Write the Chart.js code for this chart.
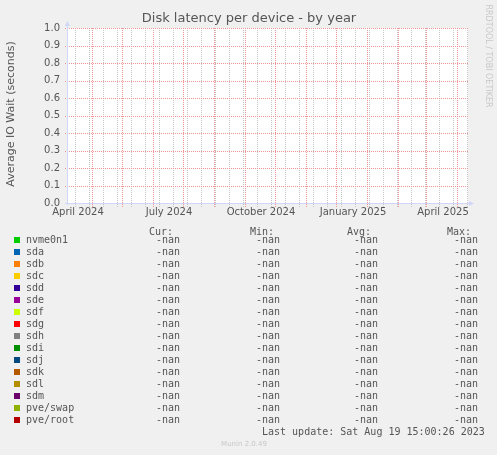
<!DOCTYPE html>
<html lang="en">
<head>
  <meta charset="UTF-8">
  <title>Disk latency per device - by year</title>
  <script src="https://cdn.jsdelivr.net/npm/chart.js"></script>
  <style>
    body { margin: 0; background: #f0f0f0; }
    #box { width: 497px; height: 455px; }
  </style>
</head>
<body>
<div id="box"><canvas id="myChart" width="497" height="455"></canvas></div>

<script>
// series (all empty on this graph, munin shows -nan)
const devices = ['nvme0n1', 'sda', 'sdb', 'sdc', 'sdd', 'sde', 'sdf', 'sdg',
                 'sdh', 'sdi', 'sdj', 'sdk', 'sdl', 'sdm', 'pve/swap', 'pve/root'];
const colors = ['#00cc00', '#0066b3', '#ff8000', '#ffcc00', '#330099', '#990099', '#ccff00', '#ff0000',
                '#808080', '#008f00', '#00487d', '#b35a00', '#b38f00', '#6b006b', '#8fb300', '#b30000'];
const curVals = [NaN, NaN, NaN, NaN, NaN, NaN, NaN, NaN, NaN, NaN, NaN, NaN, NaN, NaN, NaN, NaN];
const minVals = [NaN, NaN, NaN, NaN, NaN, NaN, NaN, NaN, NaN, NaN, NaN, NaN, NaN, NaN, NaN, NaN];
const avgVals = [NaN, NaN, NaN, NaN, NaN, NaN, NaN, NaN, NaN, NaN, NaN, NaN, NaN, NaN, NaN, NaN];
const maxVals = [NaN, NaN, NaN, NaN, NaN, NaN, NaN, NaN, NaN, NaN, NaN, NaN, NaN, NaN, NaN, NaN];

// x axis: days counted from 1 April 2024
const monthStarts = [0, 30, 61, 91, 122, 153, 183, 214, 244, 275, 306, 334, 365];
const labelDays = [0, 91, 183, 275, 365];
const labelTexts = ['April 2024', 'July 2024', 'October 2024', 'January 2025', 'April 2025'];
const yTicks = [0, 0.1, 0.2, 0.3, 0.4, 0.5, 0.6, 0.7, 0.8, 0.9, 1.0];

const title = 'Disk latency per device - by year';
const yTitle = 'Average IO Wait (seconds)';
const headers = ['Cur:', 'Min:', 'Avg:', 'Max:'];
const lastUpdate = 'Last update: Sat Aug 19 15:00:26 2023';
const version = 'Munin 2.0.49';

const fontColor = '#555';
const axisColor = '#cfd6f8';
const majorColor = 'rgb(236,150,150)';
const minorColor = 'rgb(198,198,198)';

Chart.defaults.font.family = 'DejaVu Sans';

function fmt(v) {
  return isNaN(v) ? '-nan' : v.toFixed(2);
}

function kindColor(k) {
  if (k === 'major') return majorColor;
  if (k === 'minor') return minorColor;
  return null;
}

// rrdtool look: white canvas, dotted grid, axes with arrows, texts, legend table
const munin = {
  id: 'munin',
  beforeDraw(chart) {
    const a = chart.chartArea, ctx = chart.ctx;
    ctx.save();
    ctx.fillStyle = '#fff';
    ctx.fillRect(a.left, a.top, a.right - a.left, a.bottom - a.top);
    ctx.restore();
  },
  beforeDatasetsDraw(chart) {
    const a = chart.chartArea, ctx = chart.ctx;
    const xs = chart.scales.x, ys = chart.scales.y;
    const top = Math.round(a.top), bottom = Math.round(a.bottom);
    const left = Math.round(a.left), right = Math.round(a.right);
    ctx.save();
    // vertical lines from the x ticks
    xs.ticks.forEach(t => {
      const col = kindColor(t.kind);
      if (!col) return;
      const px = Math.round(xs.getPixelForValue(t.value));
      ctx.fillStyle = col;
      for (let y = top; y <= bottom + 3; y += 2) ctx.fillRect(px, y, 1, 1);
    });
    // horizontal lines from the y ticks
    ys.ticks.forEach(t => {
      const py = Math.round(ys.getPixelForValue(t.value));
      ctx.fillStyle = majorColor;
      for (let x = left - 2; x <= right; x += 2) ctx.fillRect(x, py, 1, 1);
    });
    ctx.restore();
  },
  afterDraw(chart) {
    const a = chart.chartArea, ctx = chart.ctx;
    const x0 = Math.round(a.left) + 0.5, y0 = Math.round(a.bottom) + 0.5;
    ctx.save();
    ctx.strokeStyle = axisColor;
    ctx.fillStyle = axisColor;
    ctx.lineWidth = 1;
    ctx.beginPath();
    ctx.moveTo(a.left - 2, y0); ctx.lineTo(a.right + 2, y0);
    ctx.moveTo(x0, a.bottom + 2); ctx.lineTo(x0, a.top - 3);
    ctx.stroke();
    ctx.beginPath();
    ctx.moveTo(x0, a.top - 7); ctx.lineTo(x0 - 2.5, a.top - 2); ctx.lineTo(x0 + 2.5, a.top - 2);
    ctx.closePath(); ctx.fill();
    ctx.beginPath();
    ctx.moveTo(a.right + 6, y0); ctx.lineTo(a.right + 1, y0 - 2.5); ctx.lineTo(a.right + 1, y0 + 2.5);
    ctx.closePath(); ctx.fill();

    // title
    ctx.fillStyle = fontColor;
    ctx.textAlign = 'center';
    ctx.textBaseline = 'middle';
    ctx.font = '13px "DejaVu Sans"';
    ctx.fillText(title, 249, 19);

    // y axis title
    ctx.font = '11px "DejaVu Sans"';
    ctx.save();
    ctx.translate(11, 114);
    ctx.rotate(-Math.PI / 2);
    ctx.fillText(yTitle, 0, 0);
    ctx.restore();

    // rrdtool credit
    ctx.save();
    ctx.fillStyle = '#c8c8c8';
    ctx.font = '8px "DejaVu Sans"';
    ctx.translate(488, 56);
    ctx.rotate(Math.PI / 2);
    ctx.fillText('RRDTOOL / TOBI OETIKER', 0, 0);
    ctx.restore();

    // legend table
    ctx.font = '10px "DejaVu Sans Mono"';
    ctx.textAlign = 'left';
    const cols = [156, 256, 354, 454];
    const hdrX = [149, 250, 347, 447];
    headers.forEach((h, i) => ctx.fillText(h, hdrX[i], 232));
    const stats = [curVals, minVals, avgVals, maxVals];
    chart.data.datasets.forEach((ds, i) => {
      const y = 240 + i * 12;
      ctx.fillStyle = ds.borderColor;
      ctx.fillRect(14, y - 3, 6, 6);
      ctx.fillStyle = fontColor;
      ctx.fillText(ds.label, 26, y);
      stats.forEach((s, j) => ctx.fillText(fmt(s[i]), cols[j], y));
    });
    ctx.fillText(lastUpdate, 262, 432);

    ctx.fillStyle = '#c8c8c8';
    ctx.font = '7px "DejaVu Sans"';
    ctx.textAlign = 'center';
    ctx.fillText(version, 244, 444);
    ctx.restore();
  }
};

const datasets = devices.map((d, i) => ({
  label: d,
  data: [],
  borderColor: colors[i],
  backgroundColor: colors[i],
  borderWidth: 1,
  pointRadius: 0
}));

const config = {
  type: 'line',
  data: { datasets },
  options: {
    responsive: false,
    animation: false,
    devicePixelRatio: 1,
    layout: { padding: { left: 0, right: 29, top: 28, bottom: 0 } },
    plugins: {
      legend: { display: false },
      tooltip: { enabled: false },
      title: { display: false }
    },
    scales: {
      x: {
        type: 'linear',
        min: -25,
        max: 376,
        afterFit: s => { s.height = 252; },
        afterBuildTicks: s => {
          const t = [];
          // biweekly minor lines
          for (let d = -16.7; d < 376; d += 14) t.push({ value: d, kind: 'minor' });
          monthStarts.forEach(d => t.push({ value: d, kind: 'major' }));
          labelDays.forEach((d, i) => t.push({ value: d - 14, kind: 'label', text: labelTexts[i] }));
          t.sort((p, q) => p.value - q.value);
          s.ticks = t;
        },
        ticks: {
          autoSkip: false,
          maxRotation: 0,
          padding: 3,
          color: fontColor,
          font: { size: 10 },
          callback: (v, i, ticks) => ticks[i].text || ''
        },
        grid: { display: false, drawTicks: false },
        border: { display: false }
      },
      y: {
        min: 0,
        max: 1,
        afterFit: s => { s.width = 67; },
        afterBuildTicks: s => { s.ticks = yTicks.map(v => ({ value: v })); },
        ticks: {
          padding: 7,
          color: fontColor,
          font: { size: 10 },
          callback: v => v.toFixed(1)
        },
        grid: { display: false, drawTicks: false },
        border: { display: false }
      }
    }
  },
  plugins: [munin]
};

const myChart = new Chart(document.getElementById('myChart'), config);
</script>
</body>
</html>
